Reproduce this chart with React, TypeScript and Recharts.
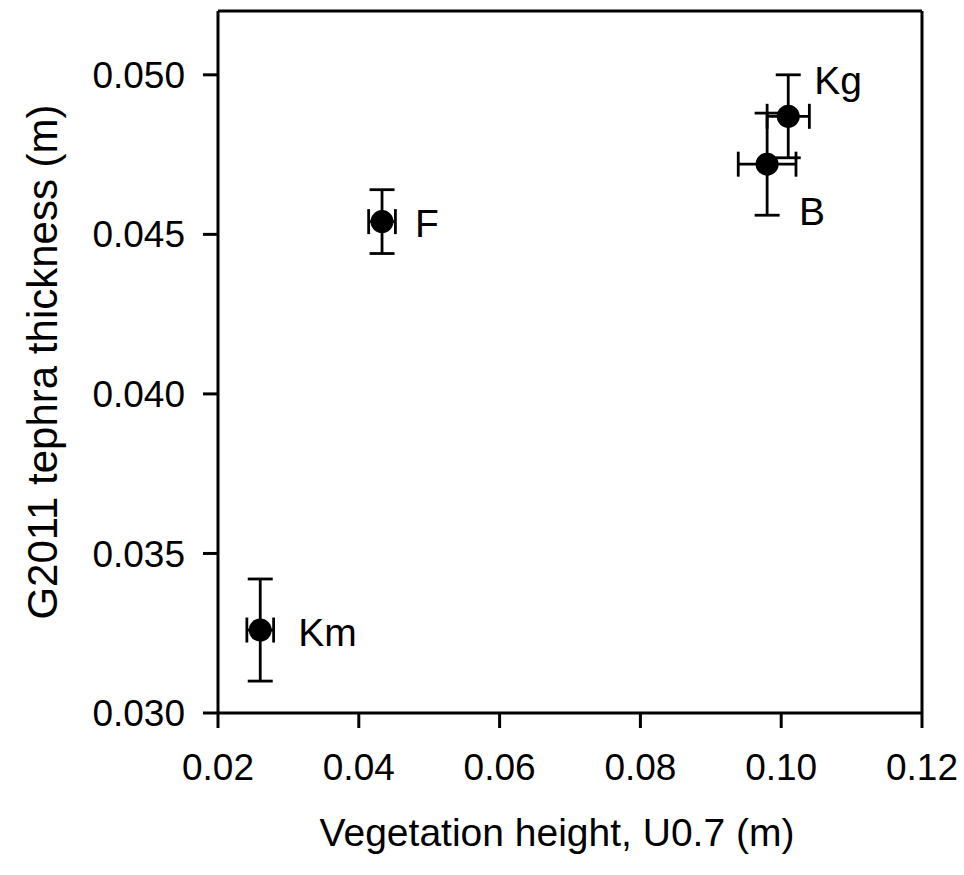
import { ScatterChart, Scatter, XAxis, YAxis, ErrorBar, ReferenceLine, Label } from "recharts";

const sites = ["Kg", "B", "F", "Km"];
const vegHeight = [0.101, 0.098, 0.0433, 0.026];
const vegHeightErr = [0.003, 0.0041, 0.0019, 0.0019];
const tephra = [0.0487, 0.0472, 0.0454, 0.0326];
const tephraErr = [0.0013, 0.0016, 0.001, 0.0016];
const xTicks = [0.02, 0.04, 0.06, 0.08, 0.1, 0.12];
const yTicks = [0.03, 0.035, 0.04, 0.045, 0.05];

// where each site name sits relative to its marker (px)
const labelOffset: Record<string, [number, number]> = {
  Kg: [26, -22],
  B: [32, 61],
  F: [33, 15],
  Km: [38, 16],
};

const data = sites.map((site, i) => ({
  site,
  x: vegHeight[i],
  y: tephra[i],
  xErr: vegHeightErr[i],
  yErr: tephraErr[i],
}));

const FONT = "'Liberation Sans', Arial, sans-serif";

const Point = (props: any) => {
  const { cx, cy, payload } = props;
  const [dx, dy] = labelOffset[payload.site] || [30, 12];
  return (
    <g>
      <circle cx={cx} cy={cy} r={11.5} fill="#000" />
      <text x={cx + dx} y={cy + dy} fontSize={39} fontFamily={FONT} fill="#000">
        {payload.site}
      </text>
    </g>
  );
};

export default function App() {
  return (
    <div style={{ position: "absolute", left: 0, top: 0, background: "#fff" }}>
      <ScatterChart
        width={964}
        height={875}
        margin={{ top: 11, right: 42, left: 0, bottom: 0 }}
      >
        <XAxis
          type="number"
          dataKey="x"
          domain={[0.02, 0.12]}
          ticks={xTicks}
          tickFormatter={(v) => v.toFixed(2)}
          allowDataOverflow
          height={162}
          tickSize={15}
          tickMargin={26}
          axisLine={{ stroke: "#000", strokeWidth: 3 }}
          tickLine={{ stroke: "#000", strokeWidth: 3 }}
          tick={{ fontSize: 37, fill: "#000", fontFamily: FONT }}
        >
          <Label
            value="Vegetation height, U0.7 (m)"
            position="center"
            dx={-13}
            dy={38}
            style={{ fontSize: 39, fill: "#000", fontFamily: FONT }}
          />
        </XAxis>
        <YAxis
          type="number"
          dataKey="y"
          domain={[0.03, 0.052]}
          ticks={yTicks}
          tickFormatter={(v) => v.toFixed(3)}
          allowDataOverflow
          width={218}
          tickSize={15}
          tickMargin={18}
          axisLine={{ stroke: "#000", strokeWidth: 3 }}
          tickLine={{ stroke: "#000", strokeWidth: 3 }}
          tick={{ fontSize: 37, fill: "#000", fontFamily: FONT }}
        >
          <Label
            value="G2011 tephra thickness (m)"
            angle={-90}
            position="center"
            dx={-67}
            style={{ fontSize: 42, fill: "#000", fontFamily: FONT, textAnchor: "middle" }}
          />
        </YAxis>
        <ReferenceLine y={0.052} stroke="#000" strokeWidth={3} />
        <ReferenceLine x={0.12} stroke="#000" strokeWidth={3} />
        <Scatter data={data} shape={<Point />} isAnimationActive={false}>
          <ErrorBar dataKey="yErr" direction="y" width={12.5} stroke="#000" strokeWidth={2.8} />
          <ErrorBar dataKey="xErr" direction="x" width={12.5} stroke="#000" strokeWidth={2.8} />
        </Scatter>
      </ScatterChart>
    </div>
  );
}
